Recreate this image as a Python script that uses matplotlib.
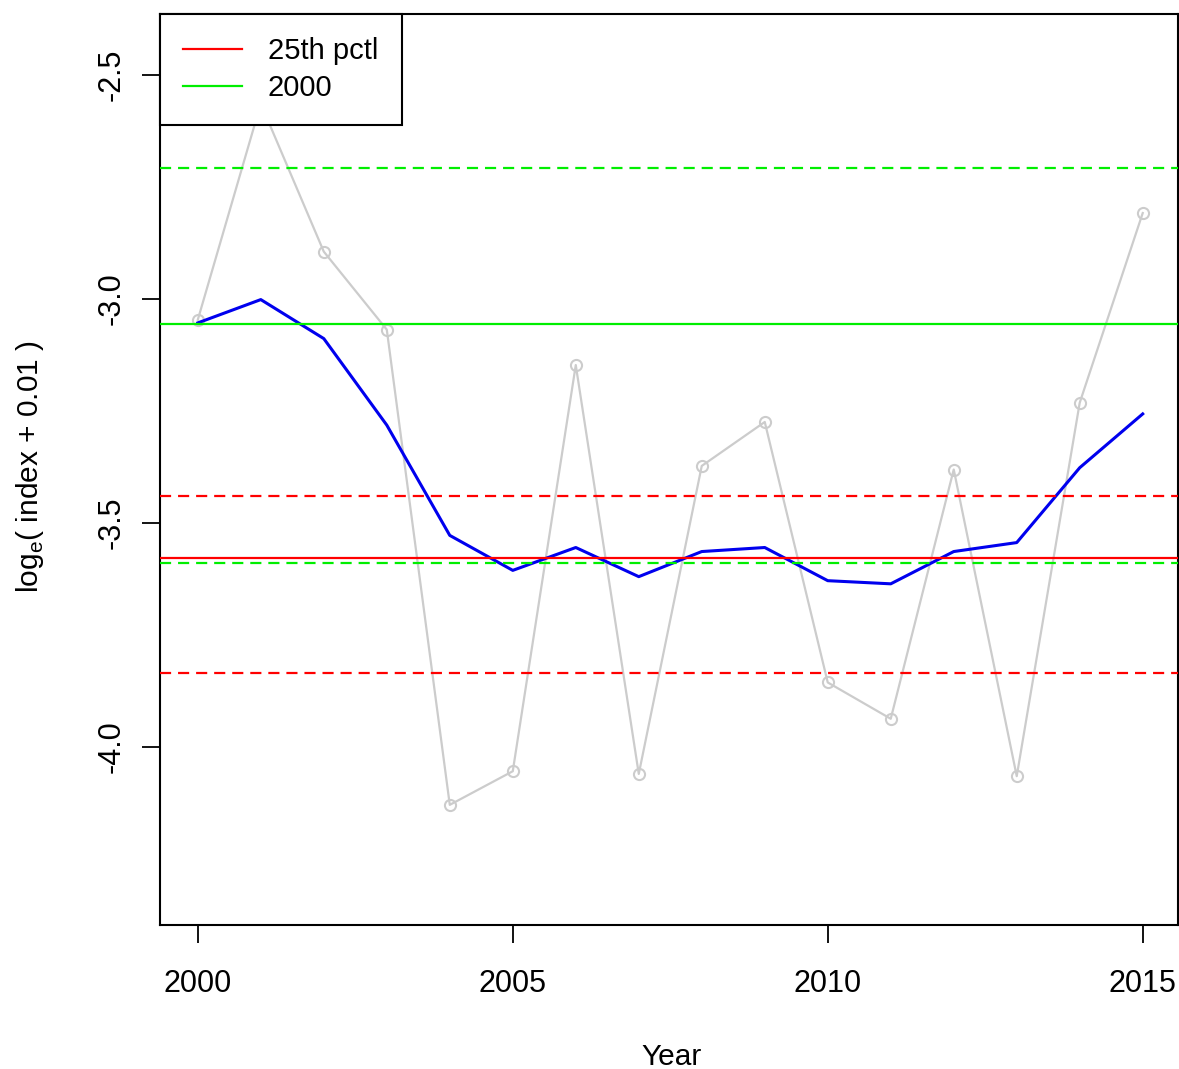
import matplotlib
matplotlib.use("Agg")
import matplotlib.pyplot as plt
from matplotlib.lines import Line2D

plt.rcParams['font.family'] = ['Liberation Sans', 'DejaVu Sans']
plt.rcParams['axes.unicode_minus'] = False
plt.rcParams['lines.scale_dashes'] = False

years = list(range(2000, 2016))
observed = [-3.047, -2.565, -2.895, -3.069, -4.129, -4.054, -3.148, -4.060,
            -3.373, -3.275, -3.856, -3.937, -3.381, -4.065, -3.232, -2.809]
smoothed = [-3.054, -3.002, -3.089, -3.282, -3.528, -3.606, -3.555, -3.620,
            -3.564, -3.555, -3.629, -3.636, -3.564, -3.544, -3.377, -3.257]

pctl25 = -3.578
pctl25_band = [-3.440, -3.834]
ref2000 = -3.056
ref2000_band = [-2.709, -3.589]

xticks = [2000, 2005, 2010, 2015]
yticks = [-2.5, -3.0, -3.5, -4.0]
legend_labels = ["25th pctl", "2000"]

fig = plt.figure(figsize=(11.79, 10.69), dpi=100)
ax = fig.add_axes([160/1179, (1069-925)/1069, (1178-160)/1179, (925-14)/1069])

grey = '#cccccc'
red = '#ff0000'
green = '#00ee00'

ax.plot(years, observed, color=grey, lw=1.6, marker='o', ms=8, mfc='none',
        mec=grey, mew=1.5, zorder=2)
ax.plot(years, smoothed, color='#0000ee', lw=2.2, zorder=3)

ax.axhline(pctl25, color=red, lw=1.6, zorder=4)
for v in pctl25_band:
    ax.axhline(v, color=red, lw=1.6, dashes=(8, 5), zorder=4)
ax.axhline(ref2000, color=green, lw=1.6, zorder=4)
for v in ref2000_band:
    ax.axhline(v, color=green, lw=1.6, dashes=(8, 5), zorder=4)

ax.set_xlim(1999.4, 2015.56)
ax.set_ylim(-4.397, -2.365)
ax.set_xticks(xticks)
ax.set_xticklabels([str(x) for x in xticks])
ax.set_yticks(yticks)
ax.set_yticklabels([f"{y:.1f}" for y in yticks], rotation=90, va='center')
ax.tick_params(axis='both', direction='out', length=13, width=1.3,
               labelsize=22)
ax.tick_params(axis='x', pad=19)
ax.tick_params(axis='y', pad=11)
for s in ax.spines.values():
    s.set_linewidth(1.5)
    s.set_color('black')

fig.text(672/1179, 1 - 1057/1069, "Year", ha='center', va='center', fontsize=21.5)
fig.text(30/1179, 1 - 467/1069, r"log$_\mathregular{e}$( index + 0.01 )",
         rotation=90, ha='center', va='center', fontsize=21.5)

handles = [Line2D([], [], color=red, lw=1.6), Line2D([], [], color=green, lw=1.6)]
leg = ax.legend(handles, legend_labels, loc='upper left', bbox_to_anchor=(0, 1),
                borderaxespad=0, fancybox=False, framealpha=1, edgecolor='black',
                fontsize=21, handlelength=2.0, handletextpad=0.9,
                borderpad=0.8, labelspacing=0.3)
leg.get_frame().set_linewidth(1.5)
leg.set_zorder(10)

fig.savefig("out.png", dpi=100)
